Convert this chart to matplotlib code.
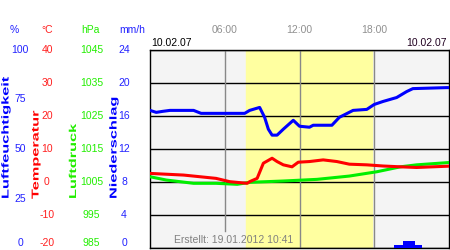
import numpy as np
import matplotlib
matplotlib.use("Agg")
import matplotlib.pyplot as plt
import matplotlib.transforms as mtransforms
from matplotlib.textpath import TextPath
from matplotlib.patches import PathPatch
from matplotlib.font_manager import FontProperties

plt.rcParams['font.family'] = ['Liberation Sans', 'DejaVu Sans']

# Zeit in Stunden
hum_t = [0, 0.5, 1.0, 1.6, 3.5, 4.1, 7.6, 8.0, 8.8, 9.2, 9.5, 9.8, 10.2, 10.7, 11.5,
         12.0, 12.8, 13.1, 14.6, 15.2, 16.3, 17.4, 18.0, 18.7, 19.8, 20.6, 21.1, 23.8, 24]
hum = [69.5, 68.5, 69, 69.5, 69.5, 68, 68, 69.5, 71, 66, 60, 57, 57, 60, 64.5,
       61.5, 61, 62, 62, 66, 69.5, 70, 72.5, 74, 76, 79, 80.5, 81, 81]

temp_t = [0, 2.7, 5.3, 6.4, 7.8, 8.0, 8.6, 9.1, 9.8, 10.2, 10.7, 11.4, 11.9, 12.8,
          13.9, 15.0, 16.0, 17.4, 18.7, 20.1, 21.4, 22.7, 24]
temp = [2.6, 2.1, 1.1, 0.1, -0.4, 0.1, 1.1, 5.7, 7.2, 6.2, 5.2, 4.6, 6.0, 6.2,
        6.7, 6.2, 5.4, 5.2, 4.85, 4.6, 4.4, 4.6, 4.8]

press_t = [0, 1.3, 3.5, 5.3, 7.0, 8.0, 10.7, 13.4, 16.0, 18.2, 20.1, 21.4, 24]
press = [1006.6, 1005.6, 1004.6, 1004.6, 1004.3, 1004.9, 1005.3, 1005.8, 1006.8,
         1008.1, 1009.6, 1010.2, 1010.9]

rain_edges = [19.6, 20.3, 21.3, 21.8]
rain = [0.35, 0.85, 0.35]

sun_start, sun_end = 7.7, 17.8

hum_ticks = [0, 25, 50, 75, 100]
temp_ticks = [-20, -10, 0, 10, 20, 30, 40]
press_ticks = [985, 995, 1005, 1015, 1025, 1035, 1045]
rain_ticks = [0, 4, 8, 12, 16, 20, 24]
time_ticks = [6, 12, 18]
time_labels = ['06:00', '12:00', '18:00']

W, H = 450, 250
fig = plt.figure(figsize=(4.5, 2.5), dpi=100)
ax = fig.add_axes([150 / W, 2 / H, 299 / W, 198 / H])
ax.set_facecolor('#f4f4f4')
ax.set_xlim(0, 24)
ax.set_ylim(0, 100)
ax.axvspan(sun_start, sun_end, color='#ffffa0', zorder=0)
for y in np.linspace(0, 100, 7):
    ax.axhline(y, color='black', lw=1, zorder=1)
for t in time_ticks:
    ax.axvline(t, color='#888888', lw=1, zorder=1,
               ymin=0.086 if t == 6 else 0)
ax.set_xticks([])
ax.set_yticks([])
for s in ax.spines.values():
    s.set_color('black')
    s.set_linewidth(1)

ax_r = ax.twinx()
ax_r.set_ylim(0, 24)
ax_p = ax.twinx()
ax_p.set_ylim(985, 1045)
ax_t = ax.twinx()
ax_t.set_ylim(-20, 40)
ax_h = ax.twinx()
ax_h.set_ylim(0, 100)
for a in (ax_r, ax_p, ax_t, ax_h):
    a.set_yticks([])
    a.set_xlim(0, 24)
    for s in a.spines.values():
        s.set_visible(False)

ax_r.stairs(rain, rain_edges, fill=True, color='#0000ff')
ax_p.plot(press_t, press, color='#00ee00', lw=2.2)
ax_t.plot(temp_t, temp, color='#ff0000', lw=2.2)
ax_h.plot(hum_t, hum, color='#0000ff', lw=2.2)

fs = 7.5
# Achsenbeschriftungen links
cols = [(ax_h, hum_ticks, 20, '#2222ff'), (ax_t, temp_ticks, 47, '#ff2020'),
        (ax_p, press_ticks, 91.5, '#22ee00'), (ax_r, rain_ticks, 124, '#2222ff')]
for a, ticks, xc, col in cols:
    tr = mtransforms.blended_transform_factory(fig.transFigure, a.transData)
    lo = min(ticks)
    for v in ticks:
        fig.text(xc / W, v, str(v), transform=tr, ha='center',
                 va='bottom' if v == lo else 'center', color=col, fontsize=fs)

for x, s, col in [(14, '%', '#2222ff'), (47, '°C', '#ff2020'),
                  (90, 'hPa', '#22ee00'), (132, 'mm/h', '#2222ff')]:
    fig.text(x / W, 1 - 30 / H, s, ha='center', va='center', color=col, fontsize=fs)

trx = mtransforms.blended_transform_factory(ax.transData, fig.transFigure)
for t, lab in zip(time_ticks, time_labels):
    fig.text(t, 1 - 30 / H, lab, transform=trx, ha='center', va='center',
             color='#909090', fontsize=fs)
fig.text(151 / W, 1 - 43 / H, '10.02.07', ha='left', va='center', color='black', fontsize=fs)
fig.text(447 / W, 1 - 43 / H, '10.02.07', ha='right', va='center', color='#200020', fontsize=fs)
fig.text(174 / W, 1 - 240 / H, 'Erstellt: 19.01.2012 10:41', ha='left', va='center',
         color='#808080', fontsize=fs)

# gestreckte, gedrehte Titel
fp = FontProperties(family='Liberation Sans', weight='bold')
for s, xb, col in [('Luftfeuchtigkeit', 8.5, '#0000ff'), ('Temperatur', 38.5, '#ff0000'),
                   ('Luftdruck', 76, '#22ee00'), ('Niederschlag', 116.5, '#0000ff')]:
    p = TextPath((0, 0), s, size=10, prop=fp)
    tr = mtransforms.Affine2D().scale(1.63, 1).rotate_deg(90).translate(xb, H - 199)
    fig.add_artist(PathPatch(p, transform=tr, color=col, lw=0))

fig.savefig('out.png', dpi=100)
